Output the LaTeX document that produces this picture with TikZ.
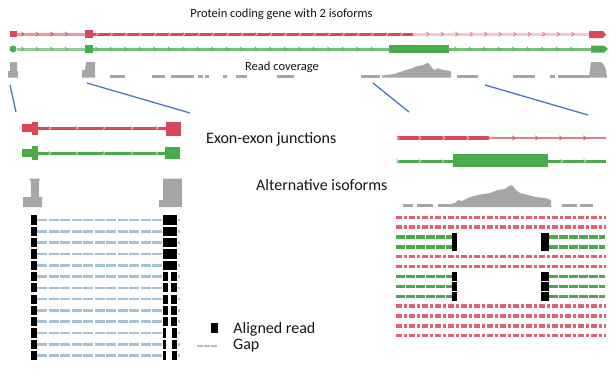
\documentclass[tikz,border=0pt]{standalone}
\usepackage{fontspec}
\setmainfont{Carlito}
\usetikzlibrary{positioning}

\definecolor{isored}{HTML}{D9475A}
\definecolor{isogreen}{HTML}{4BAA4B}
\definecolor{covgray}{HTML}{A6A6A6}
\definecolor{zoomblue}{HTML}{4A76BE}
\definecolor{gapblue}{HTML}{A8C2D4}
\definecolor{txtgray}{HTML}{141414}

\begin{document}
\begin{tikzpicture}[x=1pt, y=-1pt,
  headtxt/.style={font=\fontsize{12.5}{15}\selectfont, text=txtgray, inner sep=0pt},
  tagtxt/.style={font=\fontsize{16}{19}\selectfont, text=txtgray, inner sep=0pt, anchor=west},
  track/.style={line width=3pt},
  chev/.style={line width=0.7pt},
  covdash/.style={draw=covgray, line width=2.6pt},
  zoomline/.style={draw=zoomblue, line width=1.3pt},
  gapline/.style={draw=gapblue, line width=2.6pt, dash pattern=on 10pt off 1.5pt},
  redread/.style={draw=isored!85, line width=3.4pt, dash pattern=on 6pt off 2pt on 3pt off 2pt},
  greenread/.style={draw=isogreen, line width=3.2pt, dash pattern=on 9pt off 1pt},
  readblk/.style={fill=black, draw=none, inner sep=0pt}
]
\useasboundingbox (0,0) rectangle (616,375);

% whole gene, two isoforms
\node[headtxt] (title) at (281.5,14) {Protein coding gene with 2 isoforms};
\draw[track, isored!55] (10,34) -- (85,34);
\draw[track, isored] (93,34) -- (413,34);
\draw[track, isored!30] (413,34) -- (589,34);
\fill[isored] (10,31) rectangle (17,37);
\fill[isored] (85,30) rectangle (93,38);
\fill[isored] (589,31) -- (603,31) -- (606,34.5) -- (603,38) -- (589,38) -- cycle;
\foreach \x in {23,37.5,...,75} \draw[chev, isored] (\x-1.6,31.8) -- ++(2.4,2.2) -- ++(-2.4,2.2);
\foreach \x in {97,111.5,...,413} \draw[chev, isored!35] (\x-1.6,31.8) -- ++(2.4,2.2) -- ++(-2.4,2.2);
\foreach \x in {428,442.5,...,575} \draw[chev, isored!80] (\x-1.6,31.8) -- ++(2.4,2.2) -- ++(-2.4,2.2);

\draw[track, isogreen!60] (17,49) -- (85,49);
\draw[track, isogreen!75] (93,49) -- (389,49);
\draw[track, isogreen!75] (449,49) -- (591,49);
\fill[isogreen] (13,49) circle (3.5);
\fill[isogreen] (85,45) rectangle (93,53);
\fill[isogreen] (389,45) rectangle (449,53);
\fill[isogreen] (591,45.5) -- (604,45.5) -- (608,49) -- (604,52.5) -- (591,52.5) -- cycle;
\foreach \x in {23,37.5,...,80} \draw[chev, isogreen!110!black] (\x-1.6,46.8) -- ++(2.4,2.2) -- ++(-2.4,2.2);
\foreach \x in {97,111.5,...,385} \draw[chev, isogreen!110!black] (\x-1.6,46.8) -- ++(2.4,2.2) -- ++(-2.4,2.2);
\foreach \x in {456,470.5,...,575} \draw[chev, isogreen!110!black] (\x-1.6,46.8) -- ++(2.4,2.2) -- ++(-2.4,2.2);

% read coverage
\node[headtxt] (readcov) at (282,67) {Read coverage};
\fill[covgray] (10,62) -- (17,62) -- (17,71) -- (18,71) -- (18,77.5) -- (8,77.5) -- (8,71) -- (10,71) -- cycle;
\fill[covgray] (86,62) -- (95,62) -- (95,77.5) -- (82,77.5) -- (82,70) -- (85,70) -- cycle;
\foreach \a/\b in {110/125,152/165,171/194,198/203,205/209,223/227,236/247,277/294,361/380,457/478,513/535,550/555,558/590}
  \draw[covdash] (\a,76.3) -- (\b,76.3);
\fill[covgray] (382,77.5) -- (382,75.5) -- (394,74) -- (403,71) -- (413,68) -- (416,66.5) -- (423,65)
  -- (428,62.5) -- (431,66.5) -- (434,70) -- (438,68.3) -- (443,70) -- (448,70.5) -- (451,71.7) -- (451,77.5) -- cycle;
\fill[covgray] (591,62) -- (601,62) -- (604,65) -- (606,70) -- (607,77.5) -- (589,77.5) -- cycle;

% zoom lines
\coordinate (l1) at (10,85);  \coordinate (l2) at (16,112);
\coordinate (m1) at (87,83);  \coordinate (m2) at (190,113);
\coordinate (n1) at (373,83); \coordinate (n2) at (409,112);
\coordinate (r1) at (485,85); \coordinate (r2) at (588,115);
\draw[zoomline] (l1) -- (l2);
\draw[zoomline] (m1) -- (m2);
\draw[zoomline] (n1) -- (n2);
\draw[zoomline] (r1) -- (r2);

% left zoom: exon-exon junctions
\fill[isored] (22,124) rectangle (32,132);
\fill[isored] (32,122) rectangle (38,135);
\draw[track, isored] (38,128) -- (166,128);
\fill[isored] (166,122) rectangle (181,136);
\foreach \x in {50,77,104,132,157} \draw[chev, isored!35] (\x-1.6,125.8) -- ++(2.4,2.2) -- ++(-2.4,2.2);
\fill[isogreen] (22,149) rectangle (32,157);
\fill[isogreen] (32,146) rectangle (38,160);
\draw[track, isogreen] (38,153) -- (165,153);
\fill[isogreen] (165,147) rectangle (180,159);
\foreach \x in {50,77,104,132,157} \draw[chev, isogreen!40] (\x-1.6,150.8) -- ++(2.4,2.2) -- ++(-2.4,2.2);
\fill[covgray] (29,178.5) -- (40,178.5) -- (39,181) -- (39,197) -- (42,197) -- (42,207) -- (23,207) -- (23,197)
  -- (31,197) -- (31,181) -- cycle;
\fill[covgray] (163,178.5) -- (182,178.5) -- (182,207) -- (159,207) -- (159,200) -- (163,200) -- cycle;
\foreach \i in {1,...,13} {
  \pgfmathsetmacro{\yy}{220+11.3*(\i-1)}
  \draw[gapline] (37,\yy) -- (163,\yy);
  \draw[gapline] (178,\yy) -- (180,\yy);
  \fill[black] (31,\yy-4.6) rectangle (37,\yy+4.6);
  \ifnum\i<6
    \fill[black] (163,\yy-4.6) rectangle (177,\yy+4.6);
  \else\ifnum\i<11
    \fill[black] (163,\yy-4.6) rectangle (168,\yy+4.6);
    \fill[black] (171,\yy-4.6) rectangle (177,\yy+4.6);
  \else
    \fill[black] (163,\yy-4.6) rectangle (166,\yy+4.6);
    \fill[black] (172,\yy-4.6) rectangle (177,\yy+4.6);
  \fi\fi
}

% right zoom: alternative isoforms
\draw[line width=4pt, isored] (397,138) -- (490,138);
\draw[line width=2pt, isored!70] (490,138) -- (606,138);
\foreach \x in {398,420,444,468,490} \draw[chev, isored!35] (\x-1.6,135.8) -- ++(2.4,2.2) -- ++(-2.4,2.2);
\foreach \x in {514,537,561,585} \draw[chev, isored] (\x-1.6,135.8) -- ++(2.4,2.2) -- ++(-2.4,2.2);
\draw[track, isogreen] (397,161) -- (606,161);
\fill[isogreen] (453,154) rectangle (548,167);
\foreach \x in {398,420,443,562,585} \draw[chev, isogreen!40] (\x-1.6,158.8) -- ++(2.4,2.2) -- ++(-2.4,2.2);
\foreach \a/\b in {403/413,417/433,438/451,562/577,580/593}
  \draw[covdash] (\a,205.5) -- (\b,205.5);
\fill[covgray] (450,207) -- (450,204) -- (455,203) -- (458,200) -- (462,201) -- (470,197) -- (478,195)
  -- (490,193) -- (498,190) -- (505,189) -- (509,186) -- (512,185) -- (516,190) -- (520,193) -- (528,195)
  -- (536,197) -- (545,198) -- (551,200) -- (551,207) -- cycle;
\foreach \j in {1,2,5,6,10,11,12,13} {
  \pgfmathsetmacro{\yy}{217.3+9.87*(\j-1)}
  \draw[redread] (396,\yy) -- (606,\yy);
}
\foreach \j in {3,4,7,8,9} {
  \pgfmathsetmacro{\yy}{217.3+9.87*(\j-1)}
  \draw[greenread] (396,\yy) -- (452,\yy);
  \draw[greenread] (549,\yy) -- (605,\yy);
  \fill[black] (452,\yy-4.5) rectangle (457,\yy+4.5);
  \fill[black] (541,\yy-4.5) rectangle (549,\yy+4.5);
}

% labels and legend
\node[tagtxt] (junc) at (206,139) {Exon-exon junctions};
\node[tagtxt] (altiso) at (256,185) {Alternative isoforms};
\node[readblk, minimum width=7pt, minimum height=10pt] (legsq) at (214.5,328) {};
\node[tagtxt, right=15pt of legsq.east, yshift=-1pt] (legread) {Aligned read};
\coordinate (gapa) at (197,346);
\coordinate (gapb) at (218,346);
\draw[gapline, dash pattern=on 5.5pt off 1.5pt] (gapa) -- (gapb);
\node[tagtxt, right=15pt of gapb] (leggap) {Gap};
\end{tikzpicture}
\end{document}
